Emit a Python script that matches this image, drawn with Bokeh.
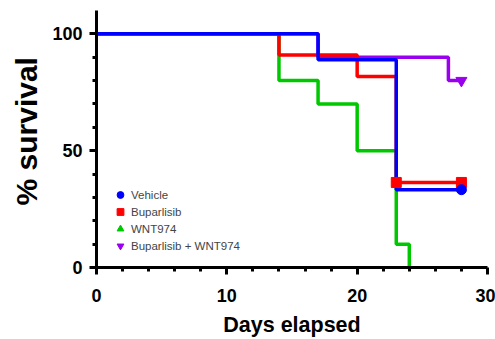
from bokeh.plotting import figure
from bokeh.models import (Range1d, FixedTicker, Legend, LegendItem, Title)
from bokeh.embed import file_html
from bokeh.resources import INLINE

# Kaplan-Meier step data (days, % survival)
vehicle_days = [0, 17, 23, 28]
vehicle_surv = [100, 88.9, 33.3, 33.3]
bup_days = [0, 14, 20, 23, 28]
bup_surv = [100, 90.9, 81.8, 36.4, 36.4]
wnt_days = [0, 14, 17, 20, 23, 24]
wnt_surv = [100, 80, 70, 50, 10, 0]
combo_days = [0, 17, 27, 28]
combo_surv = [100, 90, 80, 80]

# censored points
vehicle_cens_days = [28]
vehicle_cens_surv = [33.3]
bup_cens_days = [23, 28]
bup_cens_surv = [36.4, 36.4]
combo_cens_days = [28]
combo_cens_surv = [80]

labels = ["Vehicle", "Buparlisib", "WNT974", "Buparlisib + WNT974"]
colors = ["#0000FF", "#FF0000", "#00C800", "#9900EE"]
markers = ["circle", "square", "triangle", "inverted_triangle"]

x_ticks = [0, 10, 20, 30]
x_minor = [2, 4, 6, 8, 12, 14, 16, 18, 22, 24, 26, 28]
y_ticks = [0, 50, 100]
y_minor = [10, 20, 30, 40, 60, 70, 80, 90]

FONT = "Liberation Sans"

p = figure(width=495, height=339, output_backend="svg", toolbar_location=None,
           x_range=Range1d(0, 30), y_range=Range1d(0, 110),
           min_border_left=94, min_border_right=8, min_border_top=10, min_border_bottom=72)
p.outline_line_color = None
p.xgrid.visible = False
p.ygrid.visible = False
p.background_fill_color = "white"
p.border_fill_color = "white"
# range used only for legend swatches (kept outside the visible frame)
p.extra_y_ranges = {"legend": Range1d(1000, 1001)}

lw = 3.5
p.step(combo_days, combo_surv, mode="after", line_width=lw, color=colors[3])
p.step(wnt_days, wnt_surv, mode="after", line_width=lw, color=colors[2])
p.step(bup_days, bup_surv, mode="after", line_width=lw, color=colors[1])
p.step(vehicle_days, vehicle_surv, mode="after", line_width=lw, color=colors[0])

p.scatter(combo_cens_days, combo_cens_surv, marker=markers[3], size=11, color=colors[3])
p.scatter(bup_cens_days, bup_cens_surv, marker=markers[1], size=10, color=colors[1])
p.scatter(vehicle_cens_days, vehicle_cens_surv, marker=markers[0], size=10, color=colors[0])

# legend swatches
series_last = [(vehicle_days, vehicle_surv), (bup_days, bup_surv),
               (wnt_days, wnt_surv), (combo_days, combo_surv)]
sizes = [12, 11, 13, 13]
items = []
for (dx, dy), lab, col, mk, sz in zip(series_last, labels, colors, markers, sizes):
    r = p.scatter(dx[-1:], dy[-1:], marker=mk, size=sz, color=col, y_range_name="legend")
    items.append(LegendItem(label=lab, renderers=[r]))

legend = Legend(items=items,
                location=(15, 13), padding=0, spacing=0, margin=0,
                glyph_width=18, glyph_height=17, label_height=17, label_standoff=2,
                label_text_font=FONT, label_text_font_size="11.5px",
                background_fill_alpha=0, border_line_color=None)
p.add_layout(legend)

for ax in (p.xaxis, p.yaxis):
    ax.axis_line_width = 3
    ax.major_tick_line_width = 3
    ax.minor_tick_line_width = 3
    ax.major_tick_out = 7
    ax.major_tick_in = 0
    ax.minor_tick_out = 4
    ax.minor_tick_in = 0
    ax.major_label_text_font = FONT
    ax.major_label_text_font_style = "bold"
    ax.major_label_text_font_size = "18px"
    ax.axis_label_text_font = FONT
    ax.axis_label_text_font_style = "bold"
    ax.axis_label_text_color = "black"
    ax.major_label_text_color = "black"

p.xaxis.ticker = FixedTicker(ticks=x_ticks, minor_ticks=x_minor)
p.yaxis.ticker = FixedTicker(ticks=y_ticks, minor_ticks=y_minor)
p.xaxis.axis_label = "Days elapsed"
p.xaxis.axis_label_text_font_size = "21.5px"
p.xaxis.major_label_standoff = 14
p.yaxis.major_label_standoff = 7
p.xaxis.axis_label_standoff = 8

ytitle = Title(text="% survival", align="left", offset=62, standoff=14,
               text_font=FONT, text_font_style="bold", text_font_size="30px",
               text_color="black")
p.add_layout(ytitle, "left")

open("out.html", "w").write(file_html(p, INLINE))
